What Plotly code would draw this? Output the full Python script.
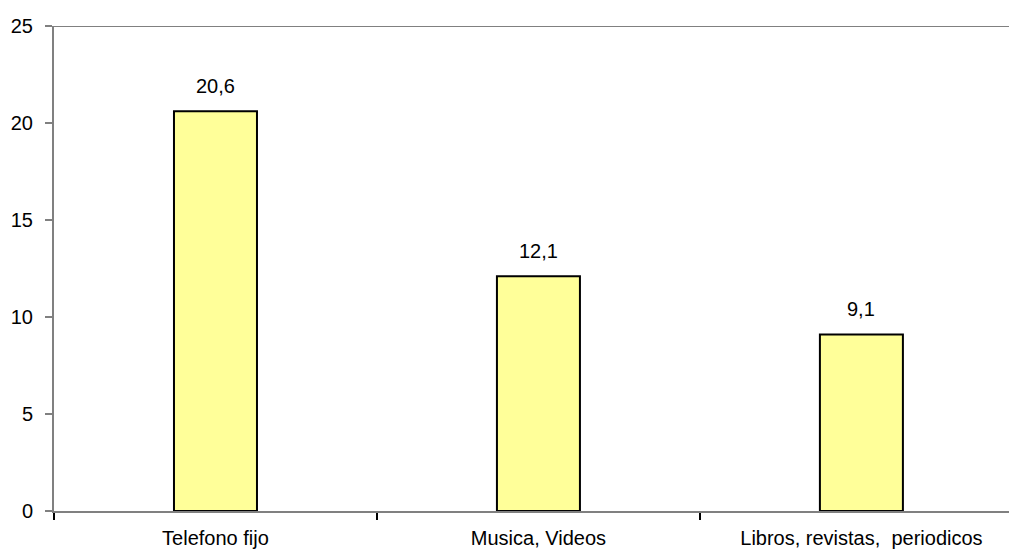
import plotly.graph_objects as go

categories = ["Telefono fijo", "Musica, Videos", "Libros, revistas,\u00a0 periodicos"]
values = [20.6, 12.1, 9.1]
y_ticks = [0, 5, 10, 15, 20, 25]

FONT = "Liberation Sans, Arial, sans-serif"
AXIS_GRAY = "#808080"
FS = 20

fig = go.Figure()
fig.add_trace(go.Bar(
    x=categories,
    y=values,
    width=0.257,
    marker=dict(color="#FFFF99", line=dict(color="black", width=2)),
    hoverinfo="skip",
))

# value labels above each bar
for cat, val in zip(categories, values):
    fig.add_annotation(
        x=cat, y=val,
        text=f"{val:.1f}".replace(".", ","),
        showarrow=False,
        yanchor="bottom",
        yshift=12,
        font=dict(family=FONT, size=FS, color="black"),
    )

# top border of the plot area
fig.add_shape(
    type="line", xref="paper", yref="y",
    x0=0, x1=1, y0=25, y1=25,
    line=dict(color=AXIS_GRAY, width=2),
)

fig.update_layout(
    width=1009,
    height=555,
    margin=dict(l=54, r=0, t=26, b=44),
    paper_bgcolor="white",
    plot_bgcolor="white",
    showlegend=False,
    font=dict(family=FONT, size=FS, color="black"),
    xaxis=dict(
        type="category",
        range=[-0.5, 2.457],
        showline=True,
        linecolor=AXIS_GRAY,
        linewidth=2,
        ticks="outside",
        tickson="boundaries",
        ticklen=7,
        tickcolor="black",
        tickwidth=2,
        ticklabelstandoff=8,
        showgrid=False,
        tickfont=dict(family=FONT, size=FS, color="black"),
    ),
    yaxis=dict(
        range=[0, 25],
        tickvals=y_ticks,
        showline=True,
        linecolor=AXIS_GRAY,
        linewidth=2,
        ticks="outside",
        ticklen=7,
        tickcolor=AXIS_GRAY,
        tickwidth=2,
        ticklabelstandoff=8,
        showgrid=False,
        zeroline=False,
        tickfont=dict(family=FONT, size=FS, color="black"),
    ),
)

fig.write_html("out.html")
